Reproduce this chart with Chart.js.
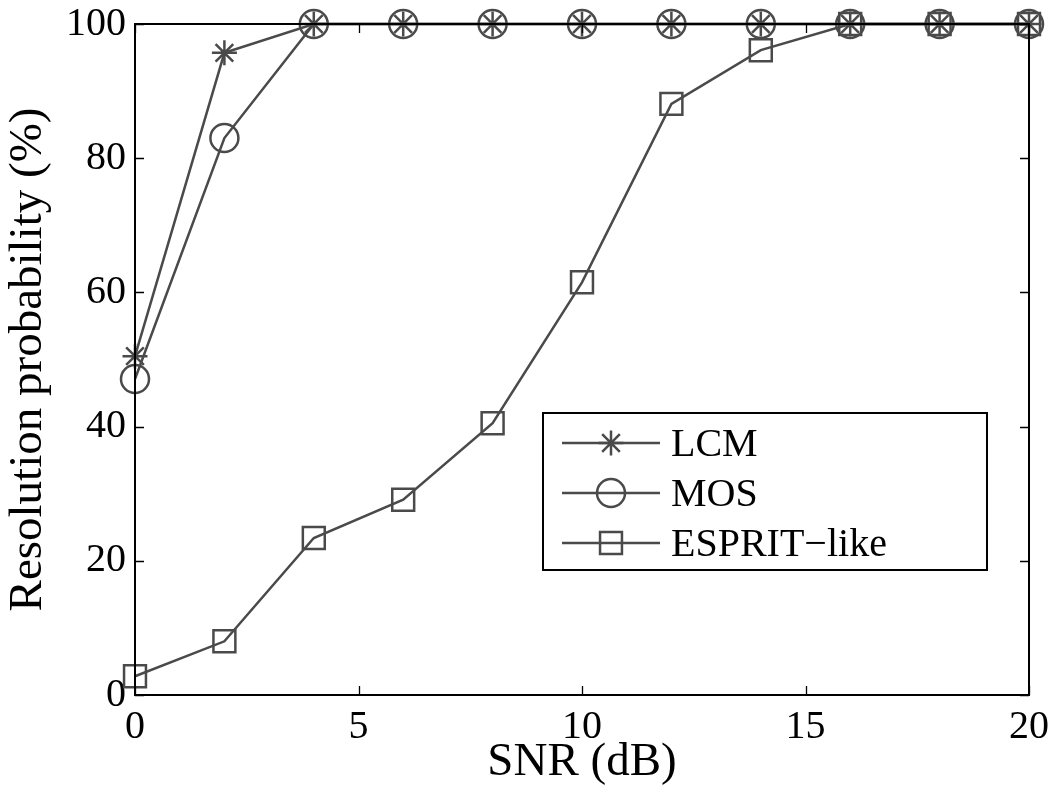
<!DOCTYPE html>
<html>
<head>
<meta charset="utf-8">
<title>Resolution probability vs SNR</title>
<script src="https://cdn.jsdelivr.net/npm/chart.js@4/dist/chart.umd.min.js"></script>
<style>
  html, body { margin: 0; padding: 0; background: #fff; }
  #wrap { width: 1052px; height: 791px; }
</style>
</head>
<body>
<div id="wrap"><canvas id="chart" width="1052" height="791"></canvas></div>
<script>
// SNR steps (dB) and resolution probability (%) per method
const snr = [0, 2, 4, 6, 8, 10, 12, 14, 16, 18, 20];
const lcm = [50.5, 95.7, 100, 100, 100, 100, 100, 100, 100, 100, 100];
const mos = [47.1, 83.0, 100, 100, 100, 100, 100, 100, 100, 100, 100];
const esprit = [2.8, 8.0, 23.4, 29.1, 40.5, 61.5, 88.1, 96.1, 100, 100, 100];

const xTicks = [0, 5, 10, 15, 20];
const yTicks = [0, 20, 40, 60, 80, 100];

const LINE = '#4a4a4a';
const FONT = '"Liberation Serif", "Times New Roman", serif';

const toPoints = ys => snr.map((x, i) => ({ x: x, y: ys[i] }));

function series(label, ys, style, radius) {
    return {
        label: label,
        data: toPoints(ys),
        borderColor: LINE,
        borderWidth: 2.5,
        pointStyle: style,
        pointRadius: radius,
        pointHoverRadius: radius,
        pointBorderColor: LINE,
        pointBorderWidth: 2.5,
        pointBackgroundColor: 'rgba(0,0,0,0)',
        showLine: true,
        tension: 0,
        clip: false
    };
}

// box on all four sides with inward ticks
const boxPlugin = {
    id: 'box',
    afterDatasetsDraw(chart) {
        const { ctx, chartArea: a, scales } = chart;
        const len = 9;
        ctx.save();
        ctx.strokeStyle = '#000';
        ctx.lineWidth = 2;
        ctx.strokeRect(a.left, a.top, a.right - a.left, a.bottom - a.top);
        ctx.lineWidth = 1.3;
        ctx.beginPath();
        xTicks.forEach(v => {
            const px = Math.round(scales.x.getPixelForValue(v)) + 0.5;
            ctx.moveTo(px, a.bottom); ctx.lineTo(px, a.bottom - len);
            ctx.moveTo(px, a.top); ctx.lineTo(px, a.top + len);
        });
        yTicks.forEach(v => {
            const py = Math.round(scales.y.getPixelForValue(v)) + 0.5;
            ctx.moveTo(a.left, py); ctx.lineTo(a.left + len, py);
            ctx.moveTo(a.right, py); ctx.lineTo(a.right - len, py);
        });
        ctx.stroke();
        ctx.restore();
    }
};

function drawMarker(ctx, style, x, y, r) {
    ctx.beginPath();
    if (style === 'circle') {
        ctx.arc(x, y, r, 0, Math.PI * 2);
    } else if (style === 'rect') {
        const s = r * Math.SQRT1_2;
        ctx.rect(x - s, y - s, 2 * s, 2 * s);
    } else if (style === 'star') {
        const d = r * Math.SQRT1_2;
        ctx.moveTo(x - r, y); ctx.lineTo(x + r, y);
        ctx.moveTo(x, y - r); ctx.lineTo(x, y + r);
        ctx.moveTo(x - d, y - d); ctx.lineTo(x + d, y + d);
        ctx.moveTo(x - d, y + d); ctx.lineTo(x + d, y - d);
    }
    ctx.stroke();
}

// legend box with line + marker samples
const legendPlugin = {
    id: 'boxLegend',
    afterDraw(chart) {
        const { ctx, chartArea: a } = chart;
        const left = a.left + 408, top = a.top + 389;
        const w = 444, h = 157;
        ctx.save();
        ctx.fillStyle = '#fff';
        ctx.fillRect(left, top, w, h);
        ctx.strokeStyle = '#000';
        ctx.lineWidth = 2;
        ctx.strokeRect(left, top, w, h);
        ctx.font = '40px ' + FONT;
        ctx.textBaseline = 'middle';
        chart.data.datasets.forEach((ds, i) => {
            const y = top + 30 + i * 50;
            ctx.strokeStyle = LINE;
            ctx.lineWidth = 2.5;
            ctx.beginPath();
            ctx.moveTo(left + 19, y); ctx.lineTo(left + 117, y);
            ctx.stroke();
            drawMarker(ctx, ds.pointStyle, left + 68, y, ds.pointRadius);
            ctx.fillStyle = '#000';
            ctx.fillText(ds.label, left + 128, y + 2);
        });
        ctx.restore();
    }
};

new Chart(document.getElementById('chart'), {
    type: 'scatter',
    data: {
        datasets: [
            series('LCM', lcm, 'star', 12.5),
            series('MOS', mos, 'circle', 14),
            series('ESPRIT\u2212like', esprit, 'rect', 15.5)
        ]
    },
    options: {
        responsive: false,
        devicePixelRatio: 1,
        animation: false,
        layout: { padding: { top: 24, right: 23, left: 0, bottom: 0 } },
        plugins: {
            legend: { display: false },
            tooltip: { enabled: false }
        },
        scales: {
            x: {
                type: 'linear',
                min: 0, max: 20,
                afterBuildTicks: s => { s.ticks = xTicks.map(v => ({ value: v })); },
                afterFit: s => { s.height = 96; s.paddingLeft = 0; s.paddingRight = 0; },
                grid: { display: false, drawTicks: false },
                border: { display: false },
                ticks: { color: '#000', font: { family: FONT, size: 40 }, padding: 8, maxRotation: 0 },
                title: { display: true, text: 'SNR (dB)', color: '#000', font: { family: FONT, size: 47 }, padding: { top: 0, bottom: 0 } }
            },
            y: {
                min: 0, max: 100,
                afterBuildTicks: s => { s.ticks = yTicks.map(v => ({ value: v })); },
                afterFit: s => { s.width = 135; s.paddingTop = 0; s.paddingBottom = 0; },
                grid: { display: false, drawTicks: false },
                border: { display: false },
                ticks: { color: '#000', font: { family: FONT, size: 40 }, padding: 9 },
                title: { display: true, text: 'Resolution probability (%)', color: '#000', font: { family: FONT, size: 47 }, padding: { top: 0, bottom: 4 } }
            }
        }
    },
    plugins: [boxPlugin, legendPlugin]
});
</script>
</body>
</html>
